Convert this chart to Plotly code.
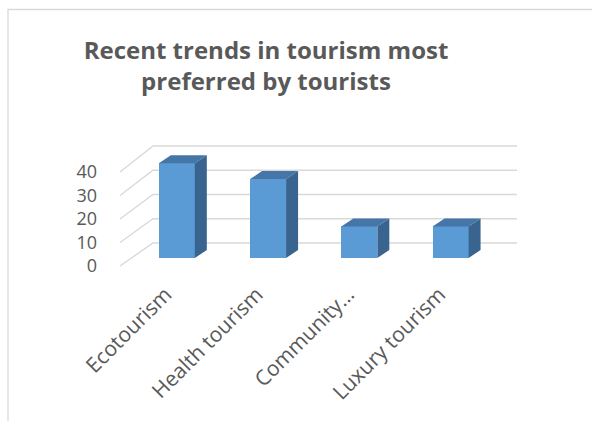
import plotly.graph_objects as go

# ---- data ----
categories = ["Ecotourism", "Health tourism", "Community…", "Luxury tourism"]
values = [40, 33.3, 13.3, 13.3]
y_ticks = [0, 10, 20, 30, 40]
title_text = "Recent trends in tourism most<br>preferred by tourists"

# ---- style / geometry ----
W, H = 592, 421
SX = 91.25            # px per category
SY = 2.35             # px per value unit
X0_PIX = 120          # pixel of x = -0.5 (front-left corner)
Y0_PIX = 266          # pixel of value 0 on front plane
ML, MR, MT, MB = 115, 62, 136, 151

BACK_DX = 33 / SX                 # back-wall offset (category units)
BACK_B = (Y0_PIX - 243) / SY      # back wall value 0 in front coords
BACK_K = 2.425 / SY               # back wall scale
BACK_XR = (517 - X0_PIX) / SX - 0.5
BAR_DX0 = 11.2 / SX               # bar front-face depth shift
BAR_DY0 = 8 / SY
BAR_DDX = 12 / SX                 # bar depth
BAR_DDY = 8 / SY
BAR_W = 36 / SX
BAR_K = 2.37 / SY

FRONT = "#5B9BD5"
TOP = "#4675A8"
SIDE = "#3A6490"
GRID = "#D9D9D9"
TXT = "#595959"

x_min = -0.5 - (X0_PIX - ML) / SX
x_max = -0.5 + (W - MR - X0_PIX) / SX
y_min = -((H - MB) - Y0_PIX) / SY
y_max = (Y0_PIX - MT) / SY

n = len(categories)
x_pos = list(range(n))

def back_y(v):
    return BACK_B + BACK_K * v

fig = go.Figure()

# back-wall gridlines + left-wall diagonals (below the bars)
for v in y_ticks:
    fig.add_shape(type="path", xref="x", yref="y", layer="below",
                  path=f"M {-0.5},{v} L {-0.5 + BACK_DX},{back_y(v)} L {BACK_XR},{back_y(v)}",
                  line=dict(color=GRID, width=1.4))

# bars: front face
fig.add_trace(go.Bar(x=[i + BAR_DX0 for i in x_pos],
                     y=[v * BAR_K for v in values],
                     base=BAR_DY0, width=BAR_W,
                     marker=dict(color=FRONT, line=dict(width=0)),
                     hoverinfo="skip", showlegend=False))

# top and side faces
tx, ty, sx_, sy_ = [], [], [], []
for i, v in zip(x_pos, values):
    L = i + BAR_DX0 - BAR_W / 2
    R = i + BAR_DX0 + BAR_W / 2
    B = BAR_DY0
    T = BAR_DY0 + v * BAR_K
    tx += [L, R, R + BAR_DDX, L + BAR_DDX, L, None]
    ty += [T, T, T + BAR_DDY, T + BAR_DDY, T, None]
    sx_ += [R, R + BAR_DDX, R + BAR_DDX, R, R, None]
    sy_ += [B, B + BAR_DDY, T + BAR_DDY, T, B, None]
fig.add_trace(go.Scatter(x=tx, y=ty, fill="toself", fillcolor=TOP, mode="lines",
                         line=dict(width=0, color=TOP), hoverinfo="skip",
                         showlegend=False))
fig.add_trace(go.Scatter(x=sx_, y=sy_, fill="toself", fillcolor=SIDE, mode="lines",
                         line=dict(width=0, color=SIDE), hoverinfo="skip",
                         showlegend=False))

pw = W - ML - MR
ph = H - MT - MB
def px2paper_x(p):
    return (p - ML) / pw
def px2paper_y(p):
    return (H - MB - p) / ph

fig.add_shape(type="rect", xref="paper", yref="paper",
              x0=px2paper_x(8), x1=px2paper_x(W + 20),
              y0=px2paper_y(H + 20), y1=px2paper_y(9.5),
              line=dict(color=GRID, width=1.3), fillcolor="rgba(0,0,0,0)")

fig.update_layout(
    width=W, height=H,
    margin=dict(l=ML, r=MR, t=MT, b=MB, autoexpand=False),
    paper_bgcolor="white", plot_bgcolor="white",
    bargap=0,
    title=dict(text=title_text, x=266 / W, xanchor="center", xref="container",
               y=1 - 59 / H, yanchor="top", yref="container",
               font=dict(family="Open Sans", size=24, color=TXT, weight="bold")),
    xaxis=dict(range=[x_min, x_max], tickmode="array", tickvals=x_pos,
               ticktext=categories, tickangle=-45, showgrid=False,
               zeroline=False, showline=False, ticks="",
               ticklabelstandoff=7,
               tickfont=dict(family="Open Sans", size=21, color=TXT)),
    yaxis=dict(range=[y_min, y_max], tickmode="array", tickvals=y_ticks,
               showgrid=False, zeroline=False, showline=False, ticks="",
               ticklabelstandoff=17,
               tickfont=dict(family="Open Sans", size=18, color=TXT)),
)

fig.write_html("out.html")
